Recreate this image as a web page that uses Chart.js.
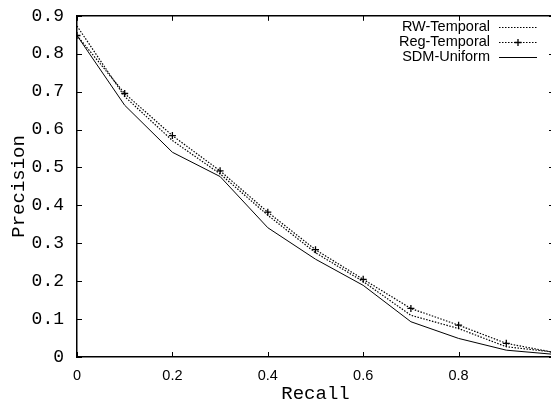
<!DOCTYPE html>
<html>
<head>
<meta charset="utf-8">
<script src="https://cdn.jsdelivr.net/npm/chart.js@4"></script>
<style>
  html, body { margin: 0; padding: 0; background: #fff; overflow: hidden; width: 551px; height: 407px; }
  #wrap { width: 560px; height: 407px; position: relative; }
</style>
</head>
<body>
<div id="wrap"><canvas id="prChart"></canvas></div>
<script>
// recall levels (x axis)
const recall = [0, 0.1, 0.2, 0.3, 0.4, 0.5, 0.6, 0.7, 0.8, 0.9, 1.0];

// precision values
const rwTemporal = [0.873, 0.687, 0.571, 0.483, 0.374, 0.275, 0.199, 0.110, 0.075, 0.027, 0.013];
const regTemporal = [0.848, 0.695, 0.584, 0.491, 0.382, 0.283, 0.205, 0.128, 0.084, 0.036, 0.012];
const sdmUniform = [0.848, 0.664, 0.540, 0.476, 0.341, 0.258, 0.189, 0.093, 0.049, 0.018, 0.007];

const seriesNames = ["RW-Temporal", "Reg-Temporal", "SDM-Uniform"];

const xTicks = [0, 0.2, 0.4, 0.6, 0.8, 1.0];
const yTicks = [0, 0.1, 0.2, 0.3, 0.4, 0.5, 0.6, 0.7, 0.8, 0.9];

function toPoints(vals) {
  return recall.map((r, i) => ({ x: r, y: vals[i] }));
}

const dotted = [1.5, 1.5];

const data = {
  datasets: [
    {
      label: seriesNames[0],
      data: toPoints(rwTemporal),
      borderColor: "#000",
      borderWidth: 1.2,
      borderDash: dotted,
      pointRadius: 0,
      fill: false,
    },
    {
      label: seriesNames[1],
      data: toPoints(regTemporal),
      borderColor: "#000",
      borderWidth: 1.2,
      borderDash: dotted,
      pointStyle: "cross",
      pointRadius: 3.5,
      pointBorderWidth: 1.3,
      pointBorderColor: "#000",
      fill: false,
    },
    {
      label: seriesNames[2],
      data: toPoints(sdmUniform),
      borderColor: "#000",
      borderWidth: 1,
      pointRadius: 0,
      fill: false,
    },
  ],
};

// gnuplot-like frame: inward ticks on all four sides + legend on the top right
const framePlugin = {
  id: "frame",
  afterDraw(chart) {
    const ctx = chart.ctx;
    const area = chart.chartArea;
    const xs = chart.scales.x;
    const ys = chart.scales.y;
    const len = 5;
    ctx.save();
    ctx.strokeStyle = "#000";
    ctx.lineWidth = 1.5;
    ctx.beginPath();
    ctx.moveTo(area.left, area.top);
    ctx.lineTo(area.right, area.top);
    ctx.lineTo(area.right, area.bottom);
    ctx.stroke();

    ctx.lineWidth = 1;
    ctx.beginPath();
    xTicks.forEach((v) => {
      const px = Math.round(xs.getPixelForValue(v)) + 0.5;
      ctx.moveTo(px, area.bottom);
      ctx.lineTo(px, area.bottom - len);
      ctx.moveTo(px, area.top);
      ctx.lineTo(px, area.top + len);
    });
    yTicks.forEach((v) => {
      const py = Math.round(ys.getPixelForValue(v)) + 0.5;
      ctx.moveTo(area.left, py);
      ctx.lineTo(area.left + len, py);
      ctx.moveTo(area.right, py);
      ctx.lineTo(area.right - len, py);
    });
    ctx.stroke();

    // legend
    ctx.font = "14.5px 'Liberation Sans', Arial, sans-serif";
    ctx.fillStyle = "#000";
    ctx.textAlign = "right";
    ctx.textBaseline = "middle";
    chart.data.datasets.forEach((ds, i) => {
      const y = 27 + 15 * i;
      ctx.fillText(ds.label, 490, y);
      ctx.beginPath();
      ctx.setLineDash(ds.borderDash || []);
      ctx.lineWidth = ds.borderWidth;
      ctx.moveTo(499, y + 0.5);
      ctx.lineTo(537, y + 0.5);
      ctx.stroke();
      ctx.setLineDash([]);
      if (ds.pointStyle === "cross") {
        ctx.lineWidth = 1.3;
        ctx.beginPath();
        ctx.moveTo(518 - 3.5, y + 0.5);
        ctx.lineTo(518 + 3.5, y + 0.5);
        ctx.moveTo(518, y - 3);
        ctx.lineTo(518, y + 4);
        ctx.stroke();
      }
    });
    ctx.restore();
  },
};

const config = {
  type: "line",
  data: data,
  options: {
    responsive: true,
    maintainAspectRatio: false,
    animation: false,
    layout: {
      padding: { left: 0, right: 6, top: 15, bottom: 0 },
    },
    plugins: {
      legend: { display: false },
      tooltip: { enabled: false },
    },
    scales: {
      x: {
        type: "linear",
        min: 0,
        max: 1,
        afterFit(scale) {
          scale.height = 50;
        },
        afterBuildTicks(scale) {
          scale.ticks = xTicks.map((v) => ({ value: v }));
        },
        grid: { display: false },
        border: { display: true, color: "#000", width: 1.5 },
        ticks: {
          color: "#000",
          padding: 2,
          maxRotation: 0,
          font: { family: "'Liberation Sans', Arial, sans-serif", size: 14.5 },
          callback: (v) => (v === 0 ? "0" : v >= 1 ? "" : v.toFixed(1)),
        },
        title: {
          display: true,
          text: "Recall",
          color: "#000",
          font: { family: "'Liberation Mono', 'Courier New', monospace", size: 19 },
          padding: { top: 0, bottom: 2 },
        },
      },
      y: {
        min: 0,
        max: 0.9,
        afterFit(scale) {
          scale.width = 77;
        },
        afterBuildTicks(scale) {
          scale.ticks = yTicks.map((v) => ({ value: v }));
        },
        grid: { display: false },
        border: { display: true, color: "#000", width: 1.5 },
        ticks: {
          color: "#000",
          padding: 5,
          font: { family: "'Liberation Mono', 'Courier New', monospace", size: 18 },
          callback: (v) => (v === 0 ? "0" : v.toFixed(1)),
        },
        title: {
          display: true,
          text: "Precision",
          color: "#000",
          font: { family: "'Liberation Mono', 'Courier New', monospace", size: 19 },
          padding: { top: 8, bottom: 0 },
        },
      },
    },
  },
  plugins: [framePlugin],
};

const myChart = new Chart(document.getElementById("prChart"), config);
</script>
</body>
</html>
